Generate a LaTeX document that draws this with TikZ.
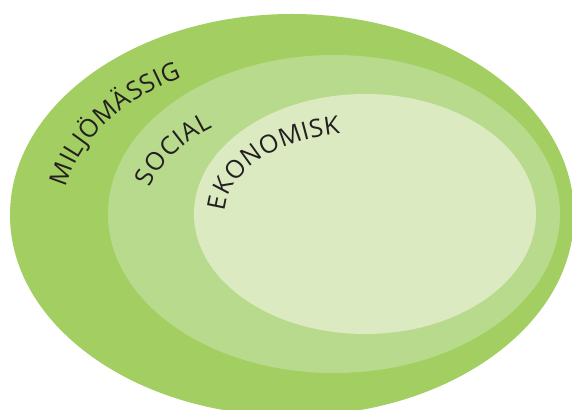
\documentclass[tikz,border=0pt]{standalone}
\usepackage{fontspec}
\setmainfont{Open Sans}
\definecolor{outergreen}{HTML}{A3CF62}
\definecolor{midgreen}{HTML}{B8DA8C}
\definecolor{innergreen}{HTML}{DCEAC2}
\definecolor{labelink}{HTML}{231F20}
\tikzset{
  arcletter/.style={inner sep=0pt, outer sep=0pt, anchor=base,
    text=labelink, font=\fontsize{25}{29}\selectfont}
}
% #1 cx, #2 cy, #3 rx, #4 ry, #5 start angle, #6 tracking, #7 letters, #8 name prefix
\newcommand\arcword[8]{%
  \xdef\awt{#5}%
  \foreach \ch [count=\i] in {#7} {%
    \pgfmathwidth{"\ch"}\let\aww\pgfmathresult
    \pgfmathsetmacro\aws{10*sqrt((#3/10*sin(\awt))^2+(#4/10*cos(\awt))^2)}%
    \pgfmathsetmacro\awm{\awt-(\aww/2)/\aws*180/pi}%
    \pgfmathsetmacro\awsm{10*sqrt((#3/10*sin(\awm))^2+(#4/10*cos(\awm))^2)}%
    \pgfmathsetmacro\awr{atan2(-#4*cos(\awm),#3*sin(\awm))}%
    \node[arcletter, rotate=\awr] (#8-\i) at ([shift={(\awm:#3 and #4)}]#1,#2) {\ch};
    \pgfmathsetmacro\awn{\awt-(\aww+#6)/\awsm*180/pi}%
    \xdef\awt{\awn}%
  }%
}
\begin{document}
\begin{tikzpicture}[x=1pt,y=1pt]
\fontsize{25}{29}\selectfont
\useasboundingbox (0,0) rectangle (572,409);
\clip (0,0) rectangle (572,409);
\fill[white] (0,0) rectangle (572,409);
% rings
\fill[outergreen] (292,194) ellipse [x radius=282, y radius=201];
\fill[midgreen] (334,195) ellipse [x radius=226, y radius=159];
\fill[innergreen] (365,195) ellipse [x radius=171, y radius=120];
% labels
\arcword{292}{194}{229}{157}{170}{0.6}{M,I,L,J,Ö,M,Ä,S,S,I,G}{miljo}
\arcword{334}{195}{189}{112}{166.6}{0.8}{S,O,C,I,A,L}{social}
\arcword{365}{195}{140}{82}{178}{0.5}{E,K,O,N,O,M,I,S,K}{ekonomi}
\end{tikzpicture}
\end{document}
